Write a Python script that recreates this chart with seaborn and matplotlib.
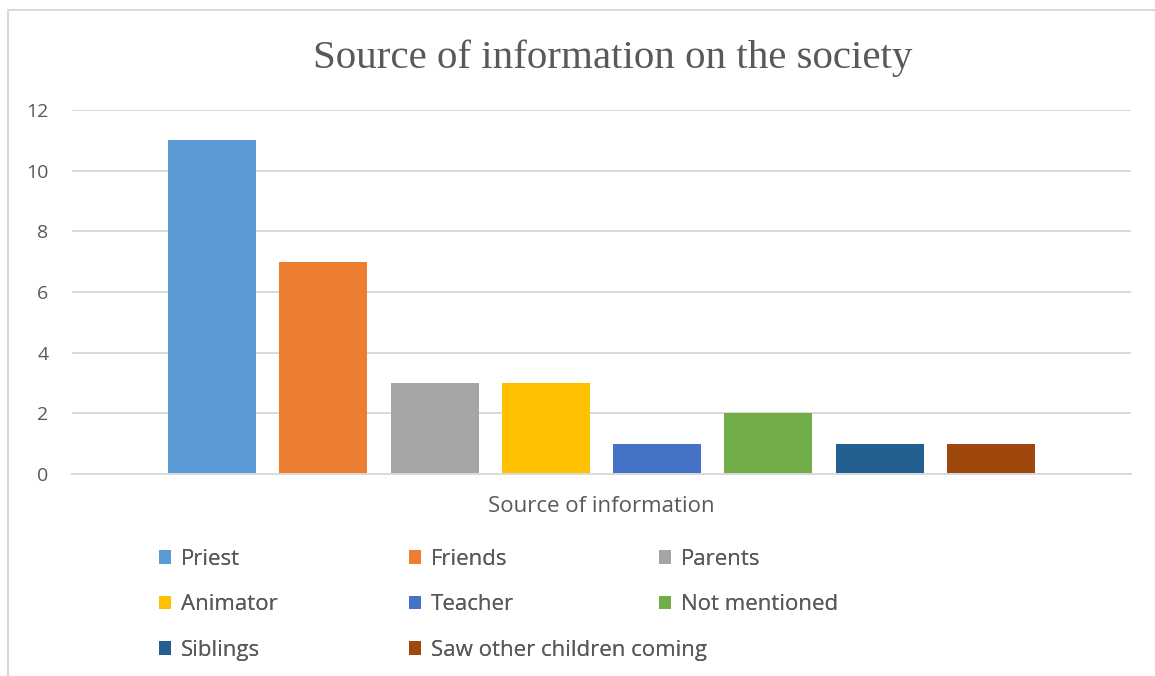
import matplotlib
matplotlib.use("Agg")
import matplotlib.pyplot as plt
import seaborn as sns
import pandas as pd
from matplotlib.patches import Rectangle

# ---- data ----
sources = ["Priest", "Friends", "Parents", "Animator", "Teacher",
           "Not mentioned", "Siblings", "Saw other children coming"]
counts = [11, 7, 3, 3, 1, 2, 1, 1]
group_label = "Source of information"
colors = ["#5B9BD5", "#ED7D31", "#A5A5A5", "#FFC000", "#4472C4",
          "#70AD47", "#255E91", "#9E480E"]
yticks = [0, 2, 4, 6, 8, 10, 12]
title = "Source of information on the society"

df = pd.DataFrame({"group": [group_label] * len(sources),
                   "source": sources, "count": counts})

sns.set_theme(style="white")
plt.rcParams["font.family"] = ["Open Sans", "DejaVu Sans"]

W, H = 1155, 676
fig = plt.figure(figsize=(W / 100, H / 100), dpi=100)
fig.patch.set_facecolor("white")

# chart border (light gray), extends off the right/bottom
fig.add_artist(Rectangle((8 / W, -0.1), 1.2, 1 - 10 / H + 0.1,
                         transform=fig.transFigure, fill=False,
                         edgecolor="#D9D9D9", linewidth=1.5))

ax = fig.add_axes([72 / W, 1 - 474 / H, (1131 - 72) / W, (474 - 110) / H])
sns.barplot(data=df, x="group", y="count", hue="source",
            hue_order=sources, palette=colors, width=0.8407, gap=0.21,
            saturation=1, linewidth=0, ax=ax, legend=True)

ax.set_ylim(0, 12)
ax.set_xlim(-0.5, 0.5)
ax.set_yticks(yticks)
ax.yaxis.grid(True, color="#D9D9D9", linewidth=1.4)
ax.set_axisbelow(True)
for s in ["left", "right", "top"]:
    ax.spines[s].set_visible(False)
ax.spines["bottom"].set_color("#D9D9D9")
ax.spines["bottom"].set_linewidth(1.4)
ax.tick_params(axis="both", length=0, labelsize=14, labelcolor="#595959")
ax.tick_params(axis="x", labelsize=16)
ax.tick_params(axis="y", pad=17)
ax.tick_params(axis="x", pad=16)
ax.set_xlabel("")
ax.set_ylabel("")

fig.text(613 / W, 1 - 58 / H, title, ha="center", va="center",
         fontsize=29.5, color="#595959", family=["Liberation Serif", "DejaVu Serif"])

# legend: 3 fixed-width columns like Excel
handles, labels = ax.get_legend_handles_labels()
ax.get_legend().remove()
col_x = [159, 409, 659]
for c in range(3):
    idx = list(range(c, len(handles), 3))
    leg = fig.legend([handles[i] for i in idx], [labels[i] for i in idx],
                     loc="upper left",
                     bbox_to_anchor=(col_x[c] / W, 1 - 549 / H),
                     frameon=False, fontsize=16, labelcolor="#595959",
                     handlelength=0.55, handleheight=0.55,
                     handletextpad=0.45, labelspacing=1.1,
                     borderpad=0, borderaxespad=0)
    fig.add_artist(leg)

fig.savefig("out.png", dpi=100, facecolor="white")
